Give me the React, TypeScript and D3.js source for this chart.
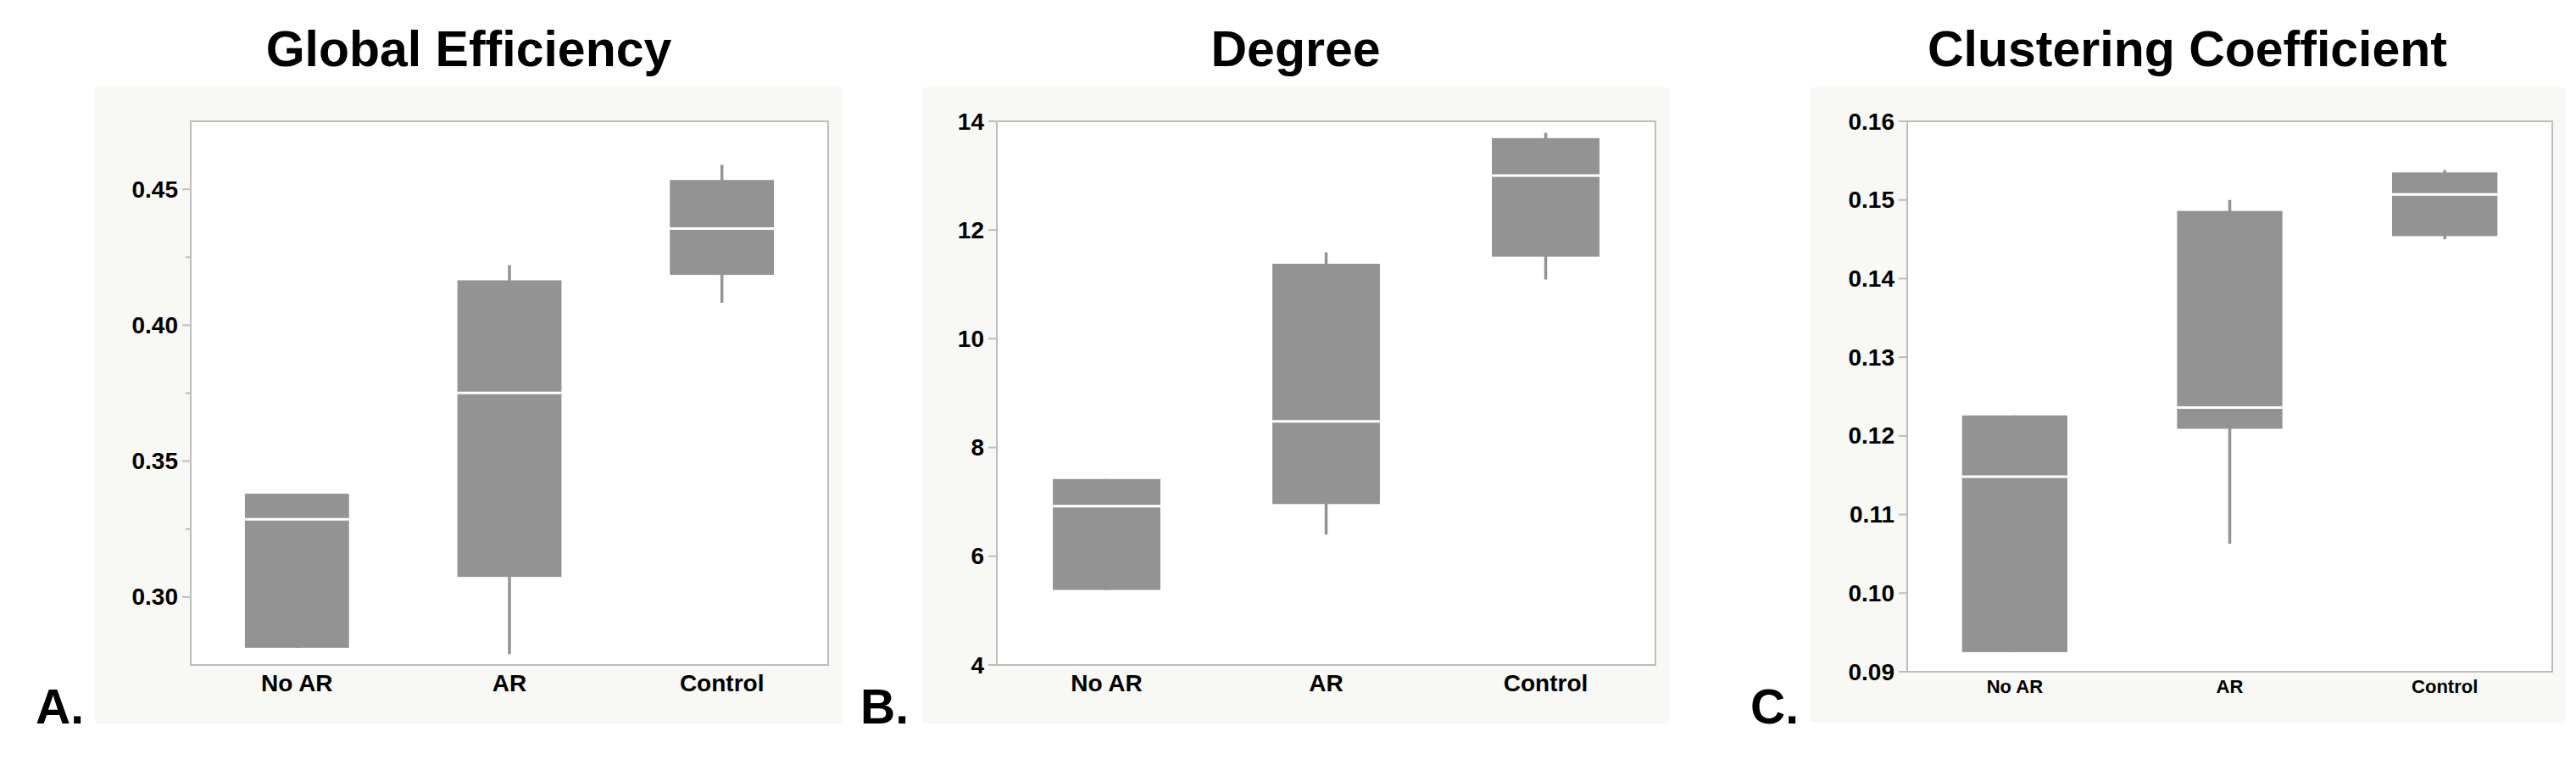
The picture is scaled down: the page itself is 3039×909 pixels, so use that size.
import * as d3 from 'd3'
import { useEffect, useRef } from 'react'

// groups on the x axis
const categories = ['No AR', 'AR', 'Control']

// [lower whisker, q1, median, q3, upper whisker] per group
const globalEfficiency = [
  [0.2813, 0.2813, 0.3286, 0.338, 0.338],
  [0.279, 0.3074, 0.3751, 0.4165, 0.4221],
  [0.4082, 0.4185, 0.4355, 0.4534, 0.459],
]
const degree = [
  [5.38, 5.38, 6.92, 7.42, 7.42],
  [6.4, 6.96, 8.48, 11.38, 11.59],
  [11.09, 11.51, 13.0, 13.69, 13.79],
]
const clustering = [
  [0.0925, 0.0925, 0.1148, 0.1226, 0.1226],
  [0.1063, 0.1209, 0.1236, 0.1486, 0.15],
  [0.145, 0.1454, 0.1507, 0.1535, 0.1538],
]

const effTicks = [0.3, 0.35, 0.4, 0.45]
const effMinor = [0.325, 0.375, 0.425]
const degTicks = [4, 6, 8, 10, 12, 14]
const clusTicks = [0.09, 0.1, 0.11, 0.12, 0.13, 0.14, 0.15, 0.16]

const panels = [
  {
    title: 'Global Efficiency', letter: 'A.', data: globalEfficiency,
    domain: [0.275, 0.475], ticks: effTicks, minor: effMinor, fmt: '.2f',
    bg: [112, 103, 994, 853], frame: [225, 143, 977, 784], letterX: 42, catSize: 28, catGap: 31,
  },
  {
    title: 'Degree', letter: 'B.', data: degree,
    domain: [4, 14], ticks: degTicks, minor: [], fmt: 'd',
    bg: [1088, 103, 1969, 853], frame: [1176, 143, 1953, 784], letterX: 1015, catSize: 28, catGap: 31,
  },
  {
    title: 'Clustering Coefficient', letter: 'C.', data: clustering,
    domain: [0.09, 0.16], ticks: clusTicks, minor: [], fmt: '.2f',
    bg: [2135, 103, 3026, 852], frame: [2250, 143, 3011, 792], letterX: 2065, catSize: 22, catGap: 25,
  },
]

const BOX = '#939393'
const FRAME = '#bdbdbd'
const FONT = '"Liberation Sans", Arial, Helvetica, sans-serif'

export default function App() {
  const svgRef = useRef<SVGSVGElement>(null)

  useEffect(() => {
    const svg = d3.select(svgRef.current)
    svg.selectAll('*').remove()

    panels.forEach((p) => {
      const [bx0, by0, bx1, by1] = p.bg
      const [fx0, fy0, fx1, fy1] = p.frame
      const g = svg.append('g')

      g.append('rect')
        .attr('x', bx0).attr('y', by0)
        .attr('width', bx1 - bx0).attr('height', by1 - by0)
        .attr('fill', '#f8f8f4')

      g.append('text')
        .attr('x', (bx0 + bx1) / 2).attr('y', 78)
        .attr('text-anchor', 'middle')
        .attr('font-family', FONT).attr('font-weight', 'bold')
        .attr('font-size', 59)
        .text(p.title)

      g.append('text')
        .attr('x', p.letterX).attr('y', 853)
        .attr('font-family', FONT).attr('font-weight', 'bold')
        .attr('font-size', 57)
        .text(p.letter)

      const x = d3.scaleBand().domain(categories).range([fx0, fx1]).padding(0)
      const y = d3.scaleLinear().domain(p.domain).range([fy1, fy0])
      const bw = x.bandwidth() * 0.49

      g.append('rect')
        .attr('x', fx0).attr('y', fy0)
        .attr('width', fx1 - fx0).attr('height', fy1 - fy0)
        .attr('fill', 'white')
        .attr('stroke', FRAME).attr('stroke-width', 2)

      // y ticks
      const fmt = d3.format(p.fmt)
      p.ticks.forEach((t) => {
        g.append('line')
          .attr('x1', fx0 - 10).attr('x2', fx0)
          .attr('y1', y(t)).attr('y2', y(t))
          .attr('stroke', FRAME).attr('stroke-width', 2)
        g.append('text')
          .attr('x', fx0 - 15).attr('y', y(t))
          .attr('text-anchor', 'end').attr('dominant-baseline', 'central')
          .attr('font-family', FONT).attr('font-weight', 'bold')
          .attr('font-size', 28)
          .text(fmt(t))
      })
      p.minor.forEach((t) => {
        g.append('line')
          .attr('x1', fx0 - 6).attr('x2', fx0)
          .attr('y1', y(t)).attr('y2', y(t))
          .attr('stroke', FRAME).attr('stroke-width', 2)
      })

      // x labels
      categories.forEach((c) => {
        g.append('text')
          .attr('x', (x(c) as number) + x.bandwidth() / 2)
          .attr('y', fy1 + p.catGap)
          .attr('text-anchor', 'middle')
          .attr('font-family', FONT).attr('font-weight', 'bold')
          .attr('font-size', p.catSize)
          .text(c)
      })

      // boxes
      p.data.forEach((d, i) => {
        const [lo, q1, med, q3, hi] = d
        const cx = (x(categories[i]) as number) + x.bandwidth() / 2
        g.append('line')
          .attr('x1', cx).attr('x2', cx)
          .attr('y1', y(lo)).attr('y2', y(hi))
          .attr('stroke', BOX).attr('stroke-width', 3.5)
        g.append('rect')
          .attr('x', cx - bw / 2).attr('y', y(q3))
          .attr('width', bw).attr('height', y(q1) - y(q3))
          .attr('fill', BOX)
        g.append('line')
          .attr('x1', cx - bw / 2).attr('x2', cx + bw / 2)
          .attr('y1', y(med)).attr('y2', y(med))
          .attr('stroke', 'white').attr('stroke-width', 3)
      })
    })
  }, [])

  return (
    <svg
      ref={svgRef}
      width={3039}
      height={909}
      style={{ position: 'absolute', left: 0, top: 0, background: 'white' }}
    />
  )
}
